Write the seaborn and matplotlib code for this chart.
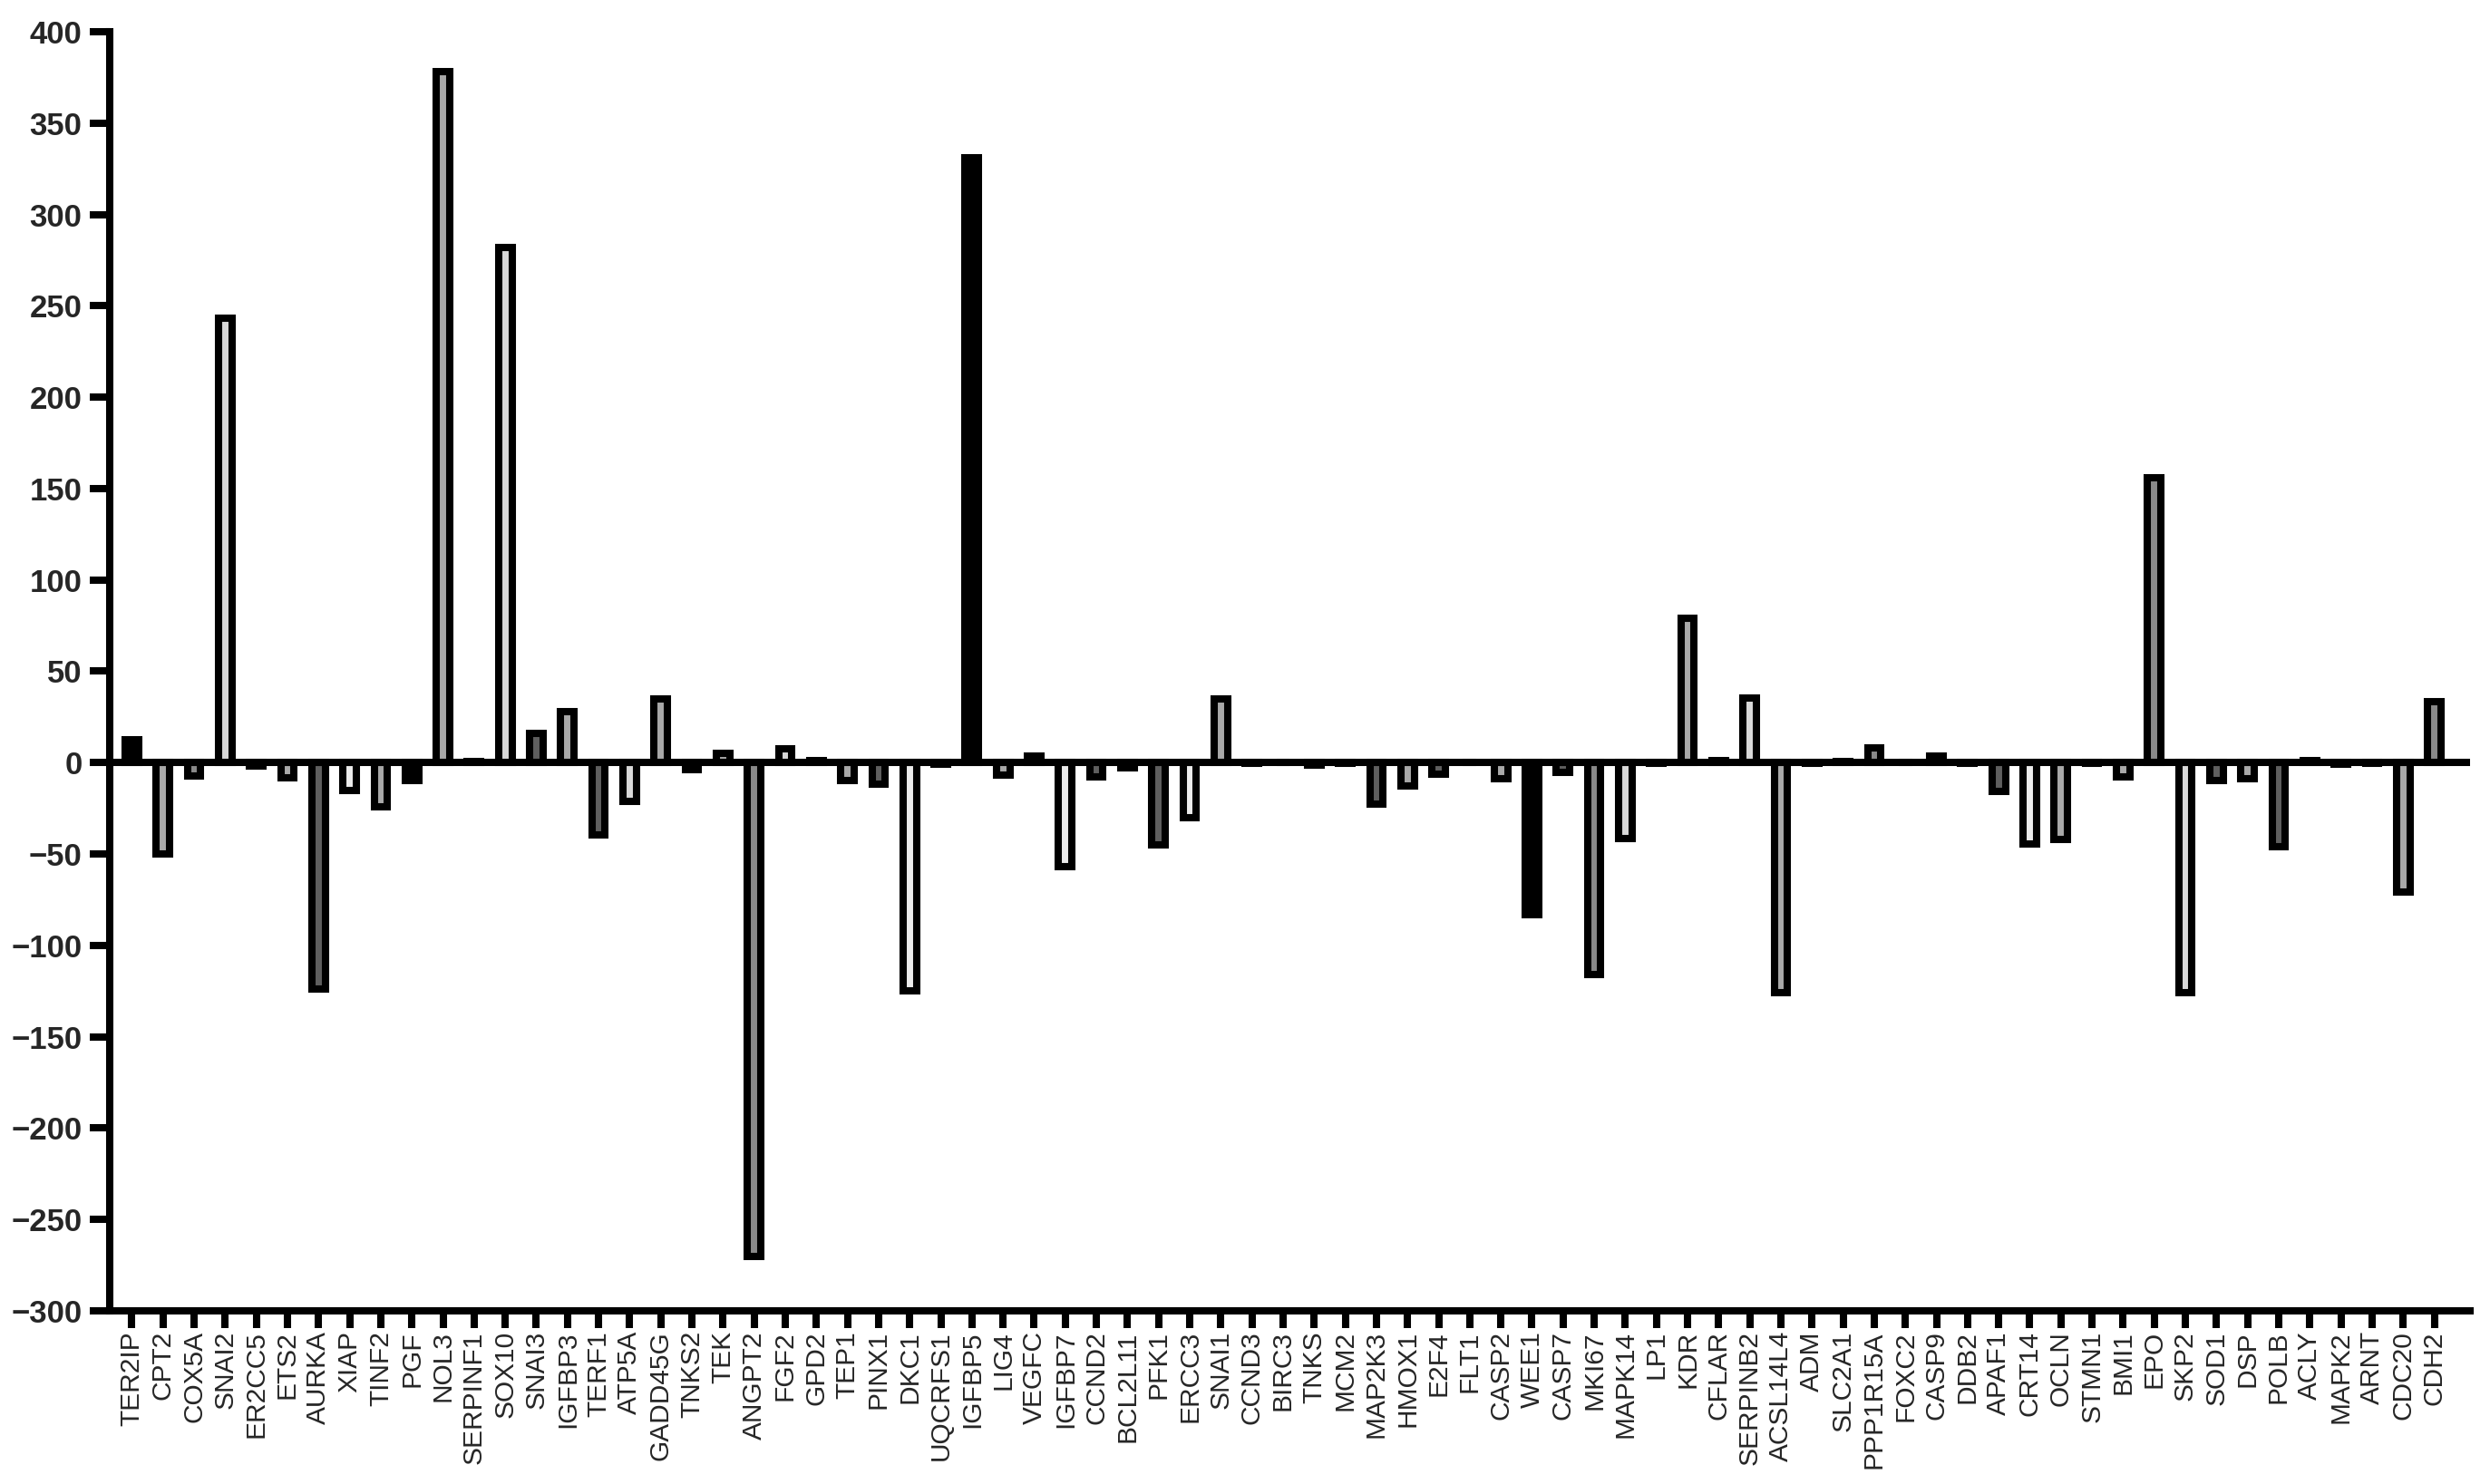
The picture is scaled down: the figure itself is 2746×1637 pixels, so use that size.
import matplotlib
matplotlib.use("Agg")
import matplotlib.pyplot as plt
import seaborn as sns
import pandas as pd

# Gene labels, left to right
genes = [
    "TER2IP", "CPT2", "COX5A", "SNAI2", "ER2CC5", "ETS2", "AURKA", "XIAP", "TINF2", "PGF",
    "NOL3", "SERPINF1", "SOX10", "SNAI3", "IGFBP3", "TERF1", "ATP5A", "GADD45G", "TNKS2", "TEK",
    "ANGPT2", "FGF2", "GPD2", "TEP1", "PINX1", "DKC1", "UQCRFS1", "IGFBP5", "LIG4", "VEGFC",
    "IGFBP7", "CCND2", "BCL2L11", "PFK1", "ERCC3", "SNAI1", "CCND3", "BIRC3", "TNKS", "MCM2",
    "MAP2K3", "HMOX1", "E2F4", "FLT1", "CASP2", "WEE1", "CASP7", "MKI67", "MAPK14", "LP1",
    "KDR", "CFLAR", "SERPINB2", "ACSL14L4", "ADM", "SLC2A1", "PPP1R15A", "FOXC2", "CASP9", "DDB2",
    "APAF1", "CRT14", "OCLN", "STMN1", "BMI1", "EPO", "SKP2", "SOD1", "DSP", "POLB",
    "ACLY", "MAPK2", "ARNT", "CDC20", "CDH2",
]

# Values
values = [
    12.5, -50, -7.5, 243, -2, -8.5, -124, -15, -24, -10,
    378, 0.5, 282, 16, 28, -39.5, -21, 35, -4, 5,
    -270, 7.5, 1, -10, -12, -125, -1, 331, -7, 3.5,
    -57, -8, -3, -45, -30, 35, -0.5, 0.3, -1.5, -0.5,
    -22.5, -13, -6.5, 0.2, -9, -83, -5.5, -116, -41.5, -0.5,
    79, 1, 35.5, -126, -0.5, 0.5, 8, 0.3, 3.5, -0.3,
    -15.5, -44.5, -42, -0.5, -8, 156, -126, -10, -9, -46,
    1, -1, -0.5, -71, 33.5,
]

# fill shade per bar: K black, D dark, M mid, L light, V very light, W near white
shade_codes = (
    "KLMVKLDWLK"
    "LKVDLDVLKL"
    "MVKLDWKKLK"
    "WDKDWLKKKK"
    "DLDKLKDMVK"
    "LKVLKKMKKK"
    "DWLKLMVDLD"
    "KKKLM"
)
shade_colors = {
    "K": "#000000",
    "D": "#5f5f5f",
    "M": "#8a8a8a",
    "L": "#a9a9a9",
    "V": "#d9d9d9",
    "W": "#ececec",
}
bar_fills = [shade_colors[c] for c in shade_codes]

df = pd.DataFrame({"gene": genes, "value": values})

sns.set_style("ticks")
plt.rcParams["font.family"] = ["Liberation Sans", "DejaVu Sans"]

LW = 5.8

fig = plt.figure(figsize=(27.46, 16.37), dpi=100)
ax = fig.add_axes([0.04406, 0.11668, 0.99199 - 0.04406, 0.97862 - 0.11668])

sns.barplot(
    data=df, x="gene", y="value", hue="gene", palette=bar_fills,
    legend=False, width=0.43, saturation=1, errorbar=None,
    edgecolor="black", linewidth=LW, ax=ax,
)

# thick zero line across the plot
ax.axhline(0, color="black", lw=LW, zorder=5)

ax.set_xlim(-0.711, 75.15)
ax.set_ylim(-300, 400)
ax.set_yticks(range(-300, 401, 50))
ax.set_xlabel("")
ax.set_ylabel("")

for side in ["top", "right"]:
    ax.spines[side].set_visible(False)
for side in ["left", "bottom"]:
    ax.spines[side].set_linewidth(LW)
    ax.spines[side].set_color("black")

ax.tick_params(axis="both", direction="out", length=14, width=LW, color="black")
ax.tick_params(axis="y", length=16, labelsize=25, pad=6)
ax.tick_params(axis="x", labelsize=21.5, pad=2, labelrotation=90)
plt.setp(ax.get_yticklabels(), fontweight="bold")

fig.savefig("out.png", dpi=100)
plt.close(fig)
